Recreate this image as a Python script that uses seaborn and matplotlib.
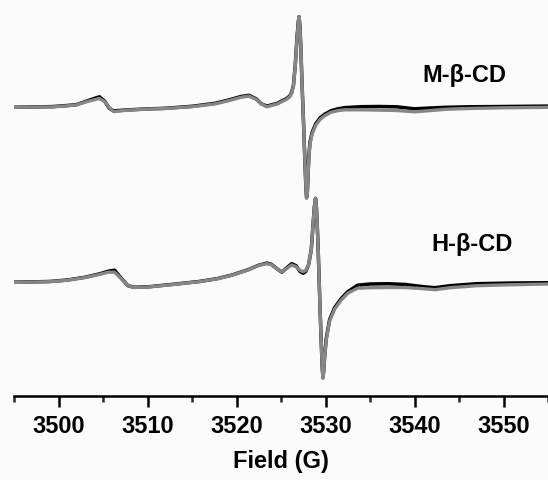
import matplotlib
matplotlib.use("Agg")
import matplotlib.pyplot as plt
from matplotlib.ticker import MultipleLocator
import seaborn as sns

# M-beta-CD spectrum (upper trace), field in G, signal in a.u.
m_field = [3495.0, 3499.3, 3501.0, 3502.0, 3503.1, 3504.0, 3504.6, 3505.2, 3505.7, 3506.2,
           3507.6, 3510.0, 3512.0, 3515.0, 3517.6, 3519.2, 3520.5, 3521.4, 3522.2, 3522.8,
           3523.4, 3524.0, 3524.6, 3525.1, 3525.6, 3526.0, 3526.2, 3526.4, 3526.6, 3526.8,
           3526.95, 3527.03, 3527.12, 3527.22, 3527.32, 3527.42, 3527.52, 3527.62, 3527.72, 3527.8,
           3527.87, 3527.94, 3528.02, 3528.12, 3528.25, 3528.5, 3528.9, 3529.4, 3529.9, 3530.6,
           3531.4, 3532.2, 3534.0, 3536.0, 3538.0, 3540.0, 3541.5, 3543.5, 3546.0, 3550.0, 3555.0]
m_exp = [0.0, 0.7, 1.8, 2.6, 6.0, 8.8, 10.5, 6.0, -1.0, -3.6,
         -2.7, -1.6, -1.0, 1.0, 4.0, 7.5, 10.8, 12.0, 8.5, 3.5,
         1.2, 2.6, 4.0, 6.5, 8.5, 11.5, 15.0, 22.0, 42.0, 70.0,
         86.0, 90.6, 82.0, 62.0, 35.0, 10.0, -12.0, -38.0, -62.0, -80.0,
         -90.0, -88.0, -72.0, -50.0, -35.0, -25.0, -16.5, -10.5, -7.0, -3.5,
         -1.5, -0.3, 0.6, 0.8, 0.5, -1.5, -0.8, 0.0, 0.5, 0.8, 1.2]
m_sim = [0.0, 0.4, 1.5, 2.3, 5.5, 7.5, 8.8, 5.5, -0.5, -4.3,
         -3.0, -1.8, -1.2, 0.6, 3.4, 6.8, 10.0, 11.2, 8.0, 3.5,
         0.5, 2.0, 3.4, 5.8, 7.8, 10.7, 14.5, 21.5, 41.0, 69.0,
         85.5, 90.6, 82.0, 62.0, 35.0, 10.0, -12.0, -38.0, -62.0, -80.0,
         -91.0, -89.0, -74.0, -52.0, -37.0, -26.5, -18.0, -12.0, -8.5, -5.0,
         -3.3, -2.5, -2.5, -2.8, -3.2, -4.5, -3.5, -2.0, -1.2, -0.5, 0.0]

# H-beta-CD spectrum (lower trace)
h_field = [3495.0, 3499.0, 3501.0, 3503.0, 3504.6, 3505.6, 3506.3, 3507.0, 3507.8, 3508.5,
           3510.2, 3513.0, 3515.8, 3517.8, 3519.5, 3521.3, 3522.5, 3523.4, 3523.9, 3524.4,
           3525.1, 3525.6, 3526.2, 3526.7, 3527.1, 3527.5, 3527.8, 3528.1, 3528.4, 3528.6,
           3528.75, 3528.88, 3528.98, 3529.07, 3529.17, 3529.26, 3529.36, 3529.45, 3529.55, 3529.63,
           3529.71, 3529.8, 3529.9, 3530.08, 3530.46, 3531.02, 3531.75, 3532.5, 3533.6, 3535.0,
           3537.0, 3539.0, 3541.0, 3542.3, 3544.0, 3547.0, 3551.0, 3555.0]
h_exp = [0.5, 1.2, 2.7, 5.5, 8.8, 11.5, 12.5, 5.0, -3.0, -4.6,
         -4.0, -1.5, 1.2, 4.0, 7.7, 13.0, 17.5, 19.6, 18.5, 15.0,
         10.5, 14.5, 19.0, 17.0, 11.5, 9.4, 11.5, 18.0, 33.0, 58.0,
         76.0, 84.4, 75.0, 58.0, 35.0, 10.0, -18.0, -42.0, -66.0, -84.0,
         -95.0, -88.0, -74.0, -56.0, -37.0, -25.0, -16.0, -9.0, -2.5, -1.3,
         -1.0, -1.8, -4.0, -5.0, -3.0, -1.0, -0.3, 0.0]
h_sim = [0.3, 1.0, 2.5, 5.2, 8.3, 10.5, 10.5, 4.5, -3.0, -4.8,
         -4.2, -1.7, 1.0, 3.8, 7.5, 12.8, 17.3, 19.0, 18.0, 14.8,
         10.8, 14.0, 17.7, 16.0, 12.5, 11.0, 12.5, 18.0, 33.0, 58.0,
         76.0, 84.4, 75.0, 58.0, 35.0, 10.0, -18.0, -42.0, -66.0, -84.0,
         -95.6, -89.0, -75.0, -57.5, -38.5, -26.5, -17.5, -10.5, -5.5, -5.0,
         -4.8, -4.8, -6.0, -7.0, -5.0, -3.0, -2.0, -1.3]

offsets = [175.4, 0.0]
labels = ["M-\u03b2-CD", "H-\u03b2-CD"]

sns.set_theme(style="white")
plt.rcParams['font.family'] = ['Liberation Sans', 'DejaVu Sans']
plt.rcParams['font.weight'] = 'bold'
plt.rcParams['text.color'] = 'black'
plt.rcParams['axes.labelcolor'] = 'black'

fig = plt.figure(figsize=(5.48, 4.8), dpi=100)
fig.patch.set_facecolor('#fbfbfb')
ax = fig.add_axes([14 / 548, 84 / 480, 534 / 548, 396 / 480])
ax.set_facecolor('#fbfbfb')

# experimental (black) underneath, simulation (gray) on top
for field, exp, sim, off in [(m_field, m_exp, m_sim, offsets[0]),
                             (h_field, h_exp, h_sim, offsets[1])]:
    sns.lineplot(x=field, y=[v + off for v in exp], color='black', lw=2.5,
                 estimator=None, sort=False, ax=ax)
    sns.lineplot(x=field, y=[v + off for v in sim], color='#868686', lw=2.4,
                 estimator=None, sort=False, ax=ax)

# sample labels
ax.text(3545.6, 207, labels[0], ha='center', va='center', fontsize=17, fontweight='bold')
ax.text(3546.5, 37.7, labels[1], ha='center', va='center', fontsize=17, fontweight='bold')

ax.set_xlim(3495, 3555)
ax.set_ylim(-113.3, 282.7)
ax.xaxis.set_major_locator(MultipleLocator(10))
ax.xaxis.set_minor_locator(MultipleLocator(5))
ax.set_yticks([])

for s in ['top', 'left', 'right']:
    ax.spines[s].set_visible(False)
ax.spines['bottom'].set_linewidth(1.8)
ax.spines['bottom'].set_color('black')

ax.tick_params(axis='x', which='major', direction='out', length=8, width=1.8,
               bottom=True, labelsize=17, pad=6, colors='black')
ax.tick_params(axis='x', which='minor', direction='out', length=4.5, width=1.8,
               bottom=True)
for lbl in ax.get_xticklabels():
    lbl.set_fontweight('bold')

ax.set_xlabel("Field (G)", fontsize=17, fontweight='bold', labelpad=8)

plt.savefig('out.png', dpi=100, facecolor=fig.get_facecolor())
